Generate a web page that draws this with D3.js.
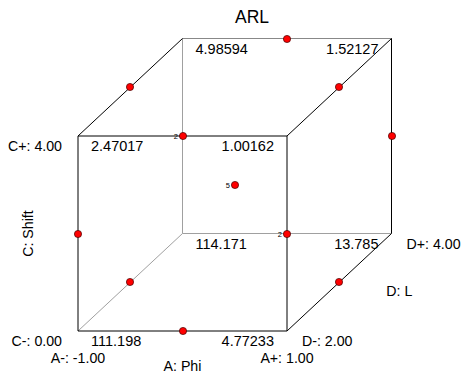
<!DOCTYPE html>
<html>
<head>
<meta charset="utf-8">
<script src="https://cdn.jsdelivr.net/npm/d3@7"></script>
<style>
  body { margin: 0; background: #fff; }
  text { font-family: "Liberation Sans", Arial, sans-serif; fill: #000; }
</style>
</head>
<body>
<div class="viz"></div>
<script>
// cube corners: A (Phi), C (Shift), D (L) and the predicted ARL
const cornerA = [-1, 1, -1, 1, -1, 1, -1, 1];
const cornerC = [0, 0, 4, 4, 0, 0, 4, 4];
const cornerD = [2, 2, 2, 2, 4, 4, 4, 4];
const cornerARL = ["111.198", "4.77233", "2.47017", "1.00162", "114.171", "13.785", "4.98594", "1.52127"];

// design runs (Box-Behnken, center replicated 5x)
const runA = [0, -1, 1, 1, -1, -1, 0, 1, 0, -1, 1, 0, 0, 0, 0, 0, 0];
const runC = [4, 4, 4, 2, 2, 0, 0, 0, 4, 2, 2, 0, 2, 2, 2, 2, 2];
const runD = [4, 3, 3, 4, 2, 3, 2, 3, 2, 4, 2, 4, 3, 3, 3, 3, 3];

const levelsA = [-1, 1], levelsC = [0, 4], levelsD = [2, 4];
const labelsA = ["A-: -1.00", "A+: 1.00"];
const labelsC = ["C-: 0.00", "C+: 4.00"];
const labelsD = ["D-: 2.00", "D+: 4.00"];

let width = 463, height = 373;

let svg = d3.select('.viz').append('svg')
	.attr('width', width)
	.attr('height', height);

let x = d3.scaleLinear().domain(levelsA).range([78, 287]);
let y = d3.scaleLinear().domain(levelsC).range([331, 136]);
let depthX = d3.scaleLinear().domain(levelsD).range([0, 104.5]);
let depthY = d3.scaleLinear().domain(levelsD).range([0, -97.5]);

function px(a, d) { return x(a) + depthX(d); }
function py(c, d) { return y(c) + depthY(d); }

// edges
let corners = cornerA.map((a, i) => ({a: a, c: cornerC[i], d: cornerD[i], v: cornerARL[i]}));
let edges = [];
corners.forEach(function(p, i) {
	corners.forEach(function(q, j) {
		if (j <= i) return;
		let diff = (p.a !== q.a) + (p.c !== q.c) + (p.d !== q.d);
		if (diff === 1) edges.push([p, q]);
	});
});

function isHidden(p) { return p.a === -1 && p.c === 0 && p.d === 4; }

function edgeColor(e) {
	if (isHidden(e[0]) || isHidden(e[1])) return '#a0a0a0';
	if (e[0].d === 4 && e[1].d === 4 && e[0].c === 4 && e[1].c === 4) return '#888';
	return '#000';
}

svg.append('g')
	.selectAll('line')
	.data(edges.sort((e1, e2) => (edgeColor(e1) === '#000') - (edgeColor(e2) === '#000')))
	.enter().append('line')
	.attr('x1', e => px(e[0].a, e[0].d))
	.attr('y1', e => py(e[0].c, e[0].d))
	.attr('x2', e => px(e[1].a, e[1].d))
	.attr('y2', e => py(e[1].c, e[1].d))
	.attr('stroke', edgeColor)
	.attr('stroke-width', 1);

// corner values
svg.append('g')
	.selectAll('text')
	.data(corners)
	.enter().append('text')
	.attr('x', d => px(d.a, d.d) + (d.a < 0 ? 13 : -13))
	.attr('y', d => py(d.c, d.d) + 15)
	.attr('text-anchor', d => d.a < 0 ? 'start' : 'end')
	.style('font-size', '14.5px')
	.text(d => d.v);

// design points, grouped by where they land on screen
let groups = d3.rollups(runA.map((a, i) => ({a: a, c: runC[i], d: runD[i]})),
	v => v.length,
	p => Math.round(px(p.a, p.d)) + ',' + Math.round(py(p.c, p.d)));

let pts = svg.append('g');
groups.forEach(function(g) {
	let xy = g[0].split(',').map(Number);
	if (g[1] > 1) {
		pts.append('text')
			.attr('x', xy[0] - 5)
			.attr('y', xy[1] + 2.5)
			.attr('text-anchor', 'end')
			.style('font-size', '7.5px')
			.style('fill', '#000')
			.text(g[1]);
	}
	pts.append('circle')
		.attr('cx', xy[0])
		.attr('cy', xy[1])
		.attr('r', 3.6)
		.attr('fill', '#f00')
		.attr('stroke', '#400')
		.attr('stroke-width', 0.7);
});

// factor labels
let labels = svg.append('g').style('font-size', '14.2px');

labels.selectAll('.lc')
	.data(levelsC)
	.enter().append('text')
	.attr('x', 62)
	.attr('y', d => y(d) + 15)
	.attr('text-anchor', 'end')
	.text((d, i) => labelsC[i]);

labels.selectAll('.la')
	.data(levelsA)
	.enter().append('text')
	.attr('x', d => x(d))
	.attr('y', y(0) + 32)
	.attr('text-anchor', 'middle')
	.text((d, i) => labelsA[i]);

labels.selectAll('.ld')
	.data(levelsD)
	.enter().append('text')
	.attr('x', d => px(1, d) + 15)
	.attr('y', d => py(0, d) + 15)
	.text((d, i) => labelsD[i]);

labels.append('text')
	.attr('x', x(0))
	.attr('y', y(0) + 40)
	.attr('text-anchor', 'middle')
	.text('A: Phi');

labels.append('text')
	.attr('transform', 'translate(33,' + y(2) + ')rotate(-90)')
	.attr('text-anchor', 'middle')
	.text('C: Shift');

labels.append('text')
	.attr('x', px(1, 3) + 47)
	.attr('y', py(0, 3) + 14)
	.text('D: L');

svg.append('text')
	.attr('x', 252)
	.attr('y', 23)
	.attr('text-anchor', 'middle')
	.style('font-size', '17.5px')
	.text('ARL');
</script>
</body>
</html>
